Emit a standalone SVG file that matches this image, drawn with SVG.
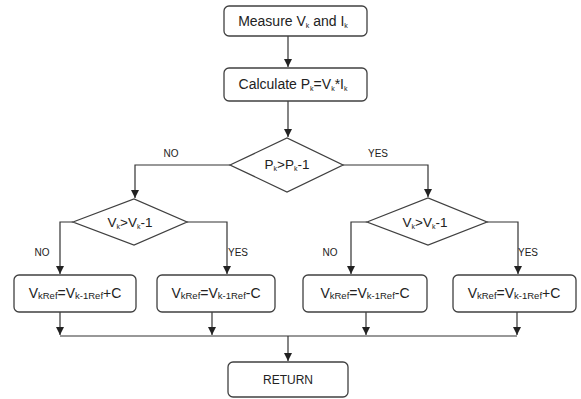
<svg xmlns="http://www.w3.org/2000/svg" width="581" height="399" viewBox="0 0 581 399">
<style>
.box{fill:#fff;stroke:#404040;stroke-width:1.3}
.dia{fill:#fff;stroke:#404040;stroke-width:1.3}
.c{fill:none;stroke:#333;stroke-width:1.2}
text{font-family:"Liberation Sans",Arial,sans-serif;fill:#222;text-anchor:middle}
.t{font-size:13.5px}
.tb{font-size:14px}
.s{font-size:7px}
.s2{font-size:9.5px}
.lbl{font-size:10px}
</style>
<defs>
<marker id="ah" markerUnits="userSpaceOnUse" markerWidth="9" markerHeight="9" refX="8" refY="4.5" orient="auto">
<path d="M0,0.5 L8,4.5 L0,8.5 z" fill="#222"/>
</marker>
</defs>
<rect width="581" height="399" fill="#fff"/>
<g id="connectors">
<path class="c" d="M288,36 V67" marker-end="url(#ah)"/>
<path class="c" d="M288,101 V137" marker-end="url(#ah)"/>
<path class="c" d="M230,165 H135 V198" marker-end="url(#ah)"/>
<path class="c" d="M343,165 H428 V197" marker-end="url(#ah)"/>
<path class="c" d="M73,222 H60 V274" marker-end="url(#ah)"/>
<path class="c" d="M187,222 H227 V274" marker-end="url(#ah)"/>
<path class="c" d="M367,222 H351 V274" marker-end="url(#ah)"/>
<path class="c" d="M487,222 H518 V274" marker-end="url(#ah)"/>
<path class="c" d="M60,312 V335" marker-end="url(#ah)"/>
<path class="c" d="M212,312 V335" marker-end="url(#ah)"/>
<path class="c" d="M366,312 V335" marker-end="url(#ah)"/>
<path class="c" d="M517,312 V335" marker-end="url(#ah)"/>
<path class="c" d="M60,336 H517"/>
<path class="c" d="M288,336 V361" marker-end="url(#ah)"/>
<text class="lbl" x="171" y="157">NO</text>
<text class="lbl" x="378" y="157">YES</text>
<text class="lbl" x="42" y="256">NO</text>
<text class="lbl" x="238" y="256">YES</text>
<text class="lbl" x="330" y="256">NO</text>
<text class="lbl" x="528" y="256">YES</text>
</g>
<g id="measure">
<rect class="box" x="224" y="6" width="143" height="30" rx="5"/>
<text class="tb" x="293" y="26">Measure V<tspan class="s" dy="2">k</tspan><tspan dy="-2"> and  I</tspan><tspan class="s" dy="2">k</tspan></text>
</g>
<g id="calculate">
<rect class="box" x="224" y="68" width="143" height="33" rx="5"/>
<text class="tb" x="293" y="89">Calculate P<tspan class="s" dy="2">k</tspan><tspan dy="-2">=V</tspan><tspan class="s" dy="2">k</tspan><tspan dy="-2">*I</tspan><tspan class="s" dy="2">k</tspan></text>
</g>
<g id="decisionP">
<polygon class="dia" points="230,165 287,138 343,165 287,192"/>
<text class="t" x="287" y="169">P<tspan class="s" dy="2">k</tspan><tspan dy="-2">&gt;P</tspan><tspan class="s" dy="2">k</tspan><tspan dy="-2">-1</tspan></text>
</g>
<g id="decisionVleft">
<polygon class="dia" points="73,222 134,199 187,222 134,245"/>
<text class="t" x="130" y="227">V<tspan class="s" dy="2">k</tspan><tspan dy="-2">&gt;V</tspan><tspan class="s" dy="2">k</tspan><tspan dy="-2">-1</tspan></text>
</g>
<g id="decisionVright">
<polygon class="dia" points="367,222 428,198 487,222 428,245"/>
<text class="t" x="425" y="227">V<tspan class="s" dy="2">k</tspan><tspan dy="-2">&gt;V</tspan><tspan class="s" dy="2">k</tspan><tspan dy="-2">-1</tspan></text>
</g>
<g id="box1">
<rect class="box" x="14" y="275" width="122" height="37" rx="5"/>
<text class="tb" x="75" y="298">V<tspan class="s2" dy="1">kRef</tspan><tspan dy="-1">=V</tspan><tspan class="s2" dy="1">k-1Ref</tspan><tspan dy="-1">+C</tspan></text>
</g>
<g id="box2">
<rect class="box" x="157" y="275" width="118" height="37" rx="5"/>
<text class="tb" x="216" y="298">V<tspan class="s2" dy="1">kRef</tspan><tspan dy="-1">=V</tspan><tspan class="s2" dy="1">k-1Ref</tspan><tspan dy="-1">-C</tspan></text>
</g>
<g id="box3">
<rect class="box" x="303" y="275" width="124" height="37" rx="5"/>
<text class="tb" x="365" y="298">V<tspan class="s2" dy="1">kRef</tspan><tspan dy="-1">=V</tspan><tspan class="s2" dy="1">k-1Ref</tspan><tspan dy="-1">-C</tspan></text>
</g>
<g id="box4">
<rect class="box" x="453" y="275" width="123" height="37" rx="5"/>
<text class="tb" x="514" y="298">V<tspan class="s2" dy="1">kRef</tspan><tspan dy="-1">=V</tspan><tspan class="s2" dy="1">k-1Ref</tspan><tspan dy="-1">+C</tspan></text>
</g>
<g id="return">
<rect class="box" x="228" y="362" width="120" height="35" rx="5"/>
<text class="t" x="288" y="384" style="font-size:12px">RETURN</text>
</g>
</svg>
